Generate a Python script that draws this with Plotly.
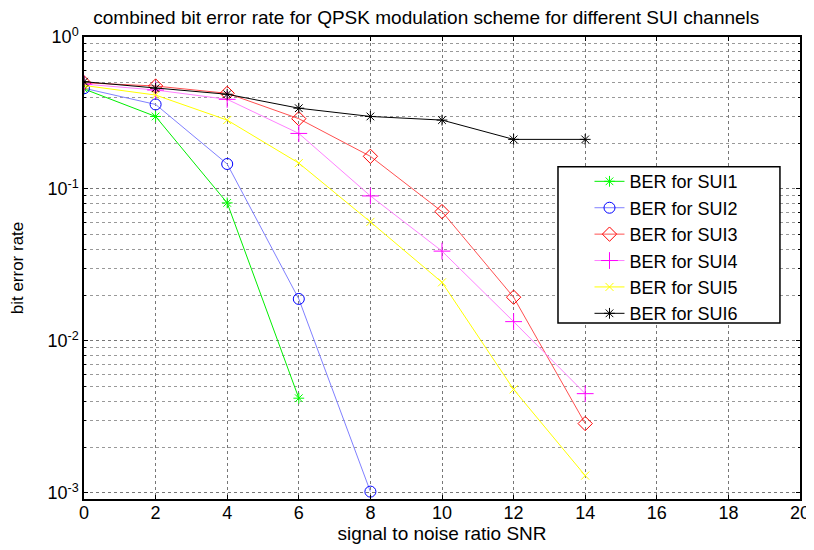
import plotly.graph_objects as go

snr = [0, 2, 4, 6, 8, 10, 12, 14]
sui1 = [0.455, 0.30, 0.081, 0.0042]
sui2 = [0.46, 0.36, 0.146, 0.0189, 0.00102]
sui3 = [0.50, 0.476, 0.426, 0.29, 0.164, 0.071, 0.0194, 0.00286]
sui4 = [0.49, 0.448, 0.389, 0.232, 0.090, 0.039, 0.0134, 0.0045]
sui5 = [0.48, 0.415, 0.284, 0.148, 0.0607, 0.0243, 0.0048, 0.0013]
sui6 = [0.508, 0.46, 0.42, 0.34, 0.30, 0.284, 0.212, 0.212]

names = ["BER for SUI1", "BER for SUI2", "BER for SUI3", "BER for SUI4", "BER for SUI5", "BER for SUI6"]
series = [sui1, sui2, sui3, sui4, sui5, sui6]
colors = ["#00ff00", "#0000ff", "#ff0000", "#ff00ff", "#ffff00", "#000000"]
linecolors = ["#00ee00", "#8080ff", "#ff5050", "#ff80ff", "#ffff00", "#000000"]
symbols = ["asterisk-open", "circle-open", "diamond-open", "cross-thin-open", "x-thin-open", "asterisk-open"]
sizes = [9, 11, 11, 12, 8, 9]

fig = go.Figure()
for n, s, c, lc, sym, sz in zip(names, series, colors, linecolors, symbols, sizes):
    fig.add_trace(go.Scatter(
        x=snr[:len(s)], y=s, name=n, mode="lines+markers",
        line=dict(color=lc, width=1),
        marker=dict(symbol=sym, size=sz, color=c, line=dict(color=c, width=1)),
    ))

# the page body adds an 8px offset, so the figure is 8px smaller than the window
font = dict(family="Liberation Sans, Arial, sans-serif", size=17, color="#000000")
fig.update_layout(
    width=806, height=542,
    margin=dict(l=76, r=14, t=29, b=51),
    paper_bgcolor="white", plot_bgcolor="white",
    font=font,
    title=dict(text="combined bit error rate for QPSK modulation scheme for different SUI channels",
               xref="container", x=0.519, xanchor="center",
               yref="container", y=0.982, yanchor="middle", font=dict(size=19)),
    legend=dict(x=0.706, y=0.727, xanchor="left", yanchor="top",
                bgcolor="rgba(0,0,0,0)", borderwidth=0,
                font=dict(size=18), tracegroupgap=0),
    showlegend=True,
    shapes=[dict(type="rect", xref="paper", yref="paper", layer="above",
                 x0=0.662, x1=0.972, y0=0.381, y1=0.719,
                 fillcolor="white", line=dict(color="black", width=1.5))],
)
fig.update_xaxes(
    range=[0, 20], tickvals=list(range(0, 21, 2)), automargin=False,
    tickfont=dict(size=18), ticklabelstandoff=-3,
    showgrid=True, gridcolor="#777777", griddash="dot", gridwidth=1,
    showline=True, linecolor="black", linewidth=1.5, mirror="ticks",
    ticks="inside", ticklen=4, tickcolor="black", zeroline=False,
    title=dict(text="signal to noise ratio SNR", standoff=3, font=dict(size=19)),
)
fig.update_yaxes(
    type="log", range=[-3.04, 0], automargin=False,
    tickvals=[0.001, 0.01, 0.1, 1],
    ticktext=["10<sup>-3</sup>", "10<sup>-2</sup>", "10<sup>-1</sup>", "10<sup>0</sup>"],
    tickfont=dict(size=18),
    showgrid=True, gridcolor="#777777", griddash="dot", gridwidth=1,
    minor=dict(showgrid=True, gridcolor="#999999", griddash="dot",
               ticks="inside", ticklen=2, tickcolor="black",
               tickvals=[k * 10 ** e for e in (-3, -2, -1) for k in range(2, 10)]),
    showline=True, linecolor="black", linewidth=1.5, mirror="ticks",
    ticks="inside", ticklen=4, tickcolor="black", zeroline=False,
    title=dict(text="bit error rate", standoff=22, font=dict(size=17)),
)
fig.write_html("out.html")
